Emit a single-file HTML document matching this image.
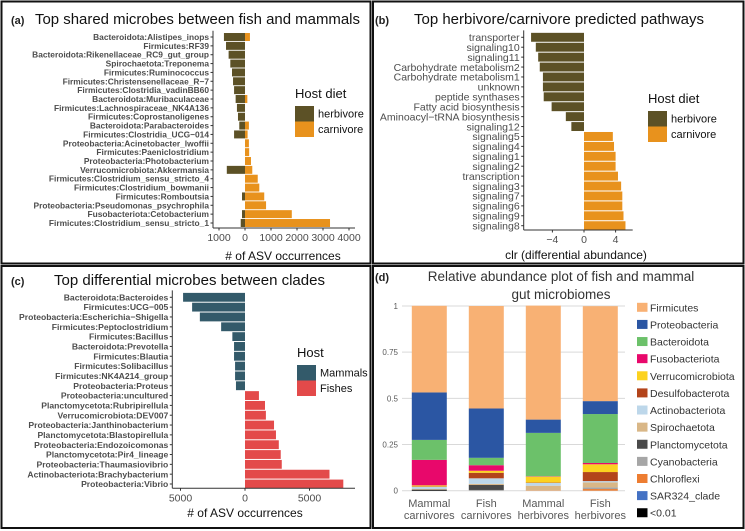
<!DOCTYPE html>
<html><head><meta charset="utf-8"><style>
html,body{margin:0;padding:0;background:#fff;}
svg{display:block;font-family:"Liberation Sans",Arial,sans-serif;}
</style></head><body>
<svg id="fig" width="745" height="531" viewBox="0 0 745 531" xmlns="http://www.w3.org/2000/svg">
<rect x="0" y="0" width="745" height="531" fill="#fff"/>
<g fill="none" stroke="#111" stroke-width="2">
<rect x="1.5" y="1.5" width="369" height="262"/>
<rect x="373" y="1.5" width="370.5" height="262"/>
<rect x="1.5" y="266" width="369" height="262"/>
<rect x="373" y="266" width="370.5" height="262"/>
</g>
</svg>
<script>
// ---------- Panel A data ----------
const aCategories = ["Bacteroidota:Alistipes_inops","Firmicutes:RF39","Bacteroidota:Rikenellaceae_RC9_gut_group","Spirochaetota:Treponema","Firmicutes:Ruminococcus","Firmicutes:Christensenellaceae_R\u22127","Firmicutes:Clostridia_vadinBB60","Bacteroidota:Muribaculaceae","Firmicutes:Lachnospiraceae_NK4A136","Firmicutes:Coprostanoligenes","Bacteroidota:Parabacteroides","Firmicutes:Clostridia_UCG\u2212014","Proteobacteria:Acinetobacter_lwoffii","Firmicutes:Paeniclostridium","Proteobacteria:Photobacterium","Verrucomicrobiota:Akkermansia","Firmicutes:Clostridium_sensu_stricto_4","Firmicutes:Clostridium_bowmanii","Firmicutes:Romboutsia","Proteobacteria:Pseudomonas_psychrophila","Fusobacteriota:Cetobacterium","Firmicutes:Clostridium_sensu_stricto_1"];
const aHerbivore = [810,730,630,565,500,460,420,360,310,270,220,420,0,0,0,700,0,0,115,0,115,165];
const aCarnivore = [190,0,0,0,0,0,0,90,0,0,150,100,150,160,230,280,490,550,740,810,1800,3270];
const aTicks = [-1000,0,1000,2000,3000,4000];
const aTickLabels = ["1000","0","1000","2000","3000","4000"];
// ---------- Panel B data ----------
const bCategories = ["transporter","signaling10","signaling11","Carbohydrate metabolism2","Carbohydrate metabolism1","unknown","peptide synthases","Fatty acid biosynthesis","Aminoacyl\u2212tRNA biosynthesis","signaling12","signaling5","signaling4","signaling1","signaling2","transcription","signaling3","signaling7","signaling6","signaling9","signaling8"];
const bValues = [-6.7,-6.1,-5.8,-5.6,-5.2,-5.2,-5.1,-4.1,-2.3,-1.6,3.65,3.8,4.0,4.0,4.3,4.7,4.85,4.85,5.0,5.25];
const bTicks = [-4,0,4];
const bTickLabels = ["\u22124","0","4"];
// ---------- Panel C data ----------
const cCategories = ["Bacteroidota:Bacteroides","Firmicutes:UCG\u2212005","Proteobacteria:Escherichia\u2212Shigella","Firmicutes:Peptoclostridium","Firmicutes:Bacillus","Bacteroidota:Prevotella","Firmicutes:Blautia","Firmicutes:Solibacillus","Firmicutes:NK4A214_group","Proteobacteria:Proteus","Proteobacteria:uncultured","Planctomycetota:Rubripirellula","Verrucomicrobiota:DEV007","Proteobacteria:Janthinobacterium","Planctomycetota:Blastopirellula","Proteobacteria:Endozoicomonas","Planctomycetota:Pir4_lineage","Proteobacteria:Thaumasiovibrio","Actinobacteriota:Brachybacterium","Proteobacteria:Vibrio"];
const cValues = [-4800,-4100,-3500,-1850,-980,-850,-850,-770,-770,-700,1080,1550,1620,2250,2400,2620,2770,2850,6550,7620];
const cTicks = [-5000,0,5000];
const cTickLabels = ["5000","0","5000"];
// ---------- Panel D data ----------
const dGroups = ["Mammal carnivores","Fish carnivores","Mammal herbivores","Fish herbivores"];
const dSeriesNames = ["Firmicutes","Proteobacteria","Bacteroidota","Fusobacteriota","Verrucomicrobiota","Desulfobacterota","Actinobacteriota","Spirochaetota","Planctomycetota","Cyanobacteria","Chloroflexi","SAR324_clade","<0.01"];
const dFirmicutes       = [0.469,0.555,0.617,0.514];
const dProteobacteria   = [0.257,0.267,0.072,0.070];
const dBacteroidota     = [0.108,0.040,0.235,0.265];
const dFusobacteriota   = [0.138,0.030,0.002,0.007];
const dVerrucomicrobiota= [0.006,0.011,0.032,0.042];
const dDesulfobacterota = [0.002,0.030,0.002,0.049];
const dActinobacteriota = [0.012,0.030,0.015,0.007];
const dSpirochaetota    = [0.003,0.006,0.025,0.027];
const dPlanctomycetota  = [0.002,0.027,0.000,0.000];
const dCyanobacteria    = [0.000,0.004,0.000,0.009];
const dChloroflexi      = [0.000,0.000,0.002,0.009];
const dSAR324           = [0.000,0.000,0.000,0.000];
const dOther            = [0.004,0.000,0.000,0.000];
const dYTicks = [0,0.25,0.5,0.75,1];
const dYTickLabels = ["0","0.25","0.5","0.75","1"];

const NS = "http://www.w3.org/2000/svg";
const svg = document.getElementById("fig");
function mk(tag, attrs, parent, text){
  const e = document.createElementNS(NS, tag);
  for (const k in attrs) e.setAttribute(k, attrs[k]);
  if (text !== undefined) e.textContent = text;
  (parent||svg).appendChild(e);
  return e;
}

function hPanel(opt){
  const g = mk("g", {});
  
  
  const n = opt.cats.length;
  const step = (opt.yLast - opt.yFirst)/(n-1);
  const yPos = i => opt.yFirst + i*step;
  const xPos = v => opt.x0 + v*opt.pxPer;
  const bh = step*0.9;
  const lab = mk("text", {x:opt.labX, y:opt.titleY, "font-size":"11", "font-weight":"bold", fill:"#222"}, g, opt.letter);
  
  
  const t = mk("text", {x:opt.titleX, y:opt.titleY, "font-size":"15", fill:"#111", textLength:opt.titleW, lengthAdjust:"spacingAndGlyphs"}, g, opt.title);
  
  
  opt.series.forEach(s => {
    s.vals.forEach((v,i) => {
      if (!v) return;
      const val = s.sign*v;
      const x1 = xPos(Math.min(0,val)), x2 = xPos(Math.max(0,val));
      const r = mk("rect", {x:x1, y:yPos(i)-bh/2, width:x2-x1, height:bh, fill:s.color(val)}, g);
      
      
    });
  });
  const ya = mk("line", {x1:opt.axX, x2:opt.axX, y1:opt.yFirst-step*0.7, y2:opt.axY, stroke:"#333", "stroke-width":"1"}, g);
  
  
  opt.cats.forEach((c,i) => {
    mk("line", {x1:opt.axX-2.5, x2:opt.axX, y1:yPos(i), y2:yPos(i), stroke:"#333"}, g);
    const tx = mk("text", {x:opt.axX-4, y:yPos(i)+opt.labFs*0.36, "font-size":opt.labFs, "font-weight":opt.labW, fill:"#4d4d4d", "text-anchor":"end"}, g, c);
    
    
  });
  const xa = mk("line", {x1:opt.axX, x2:opt.axXEnd, y1:opt.axY, y2:opt.axY, stroke:"#333"}, g);
  
  
  opt.ticks.forEach((tv,i) => {
    const x = xPos(tv);
    mk("line", {x1:x, x2:x, y1:opt.axY, y2:opt.axY+2.5, stroke:"#333"}, g);
    const tl = mk("text", {x:x, y:opt.axY+13, "font-size":"10.5", fill:"#4d4d4d", "text-anchor":"middle"}, g, opt.tickLabels[i]);
    
    
  });
  const xt = mk("text", {x:opt.xTitleX, y:opt.xTitleY, "font-size":"12", fill:"#111", "text-anchor":"middle"}, g, opt.xTitle);
  
  
  const lg = mk("g", {}, g);
  
  
  mk("text", {x:opt.legX, y:opt.legY, "font-size":"13", fill:"#111"}, lg, opt.legTitle);
  opt.legItems.forEach((it,i) => {
    const y = opt.legY + 8 + i*15.5;
    const sw = mk("rect", {x:opt.legX, y:y, width:19, height:15.5, fill:it.color}, lg);
    
    
    const lt = mk("text", {x:opt.legX+23, y:y+11.5, "font-size":"11", fill:"#111"}, lg, it.label);
    
    
  });
}

const HERB = "#5c5126", CARN = "#e8921d", MAM = "#335a6a", FISH = "#e34a4a";

hPanel({name:"panel-a-shared-microbes", letter:"(a)", labX:11, title:"Top shared microbes between fish and mammals", titleX:35, titleY:24, titleW:325,
  cats:aCategories, yFirst:37, yLast:223, x0:245, pxPer:26/1000, axX:213, axY:228, axXEnd:355,
  series:[{key:"herbivore", sign:-1, vals:aHerbivore, color:()=>HERB},{key:"carnivore", sign:1, vals:aCarnivore, color:()=>CARN}],
  ticks:aTicks, tickLabels:aTickLabels, xTitle:"# of ASV occurrences", xTitleX:283, xTitleY:260,
  labFs:8.4, labW:"bold", legX:295, legY:98, legTitle:"Host diet",
  legItems:[{label:"herbivore", color:HERB},{label:"carnivore", color:CARN}]});

hPanel({name:"panel-b-pathways", letter:"(b)", labX:375, title:"Top herbivore/carnivore predicted pathways", titleX:414, titleY:24, titleW:290,
  cats:bCategories, yFirst:37.3, yLast:225.7, x0:584, pxPer:7.9, axX:523.7, axY:230, axXEnd:632.7,
  series:[{key:"pathway", sign:1, vals:bValues, color:v=> v<0?HERB:CARN}],
  ticks:bTicks, tickLabels:bTickLabels, xTitle:"clr (differential abundance)", xTitleX:576, xTitleY:259,
  labFs:10.5, labW:"normal", legX:648, legY:103, legTitle:"Host diet",
  legItems:[{label:"herbivore", color:HERB},{label:"carnivore", color:CARN}]});

hPanel({name:"panel-c-clade-microbes", letter:"(c)", labX:11, title:"Top differential microbes between clades", titleX:54, titleY:285, titleW:271,
  cats:cCategories, yFirst:297.3, yLast:484, x0:245, pxPer:12.9/1000, axX:172.3, axY:488.3, axXEnd:355,
  series:[{key:"clade", sign:1, vals:cValues, color:v=> v<0?MAM:FISH}],
  ticks:cTicks, tickLabels:cTickLabels, xTitle:"# of ASV occurrences", xTitleX:245, xTitleY:517,
  labFs:8.6, labW:"bold", legX:297, legY:357, legTitle:"Host",
  legItems:[{label:"Mammals", color:MAM},{label:"Fishes", color:FISH}]});

(function(){
  const g = mk("g", {});
  
  
  const y0 = 490.7, y1 = 306, xL = 402, xR = 625;
  const yPos = v => y0 - v*(y0-y1);
  const xC = i => 429.3 + i*57;
  const bw = 35;
  const lab = mk("text", {x:375, y:281, "font-size":"11", "font-weight":"bold", fill:"#222"}, g, "(d)");
  
  
  const t1 = mk("text", {x:561, y:281, "font-size":"13.5", fill:"#333", "text-anchor":"middle"}, g, "Relative abundance plot of fish and mammal");
  
  
  const t2 = mk("text", {x:561, y:299, "font-size":"13.5", fill:"#333", "text-anchor":"middle"}, g, "gut microbiomes");
  
  
  dYTicks.forEach((tv,i) => {
    const gl = mk("line", {x1:xL, x2:xR, y1:yPos(tv), y2:yPos(tv), stroke:"#d9d9d9", "stroke-width":"1"}, g);
    
    
    const tl = mk("text", {x:398, y:yPos(tv)+3, "font-size":"8", fill:"#595959", "text-anchor":"end"}, g, dYTickLabels[i]);
    
    
  });
  const seriesVals = [dFirmicutes,dProteobacteria,dBacteroidota,dFusobacteriota,dVerrucomicrobiota,dDesulfobacterota,dActinobacteriota,dSpirochaetota,dPlanctomycetota,dCyanobacteria,dChloroflexi,dSAR324,dOther];
  const colors = ["#f8b174","#2b56a3","#6cc16a","#e8086b","#fcd21f","#b3441a","#bdd7ea","#d9b787","#4a4a4a","#a6a6a6","#ed7d31","#4472c4","#000000"];
  dGroups.forEach((grp,gi) => {
    let cum = 0;
    for (let s = seriesVals.length-1; s >= 0; s--) {
      const v = seriesVals[s][gi];
      if (v > 0) {
        const r = mk("rect", {x:xC(gi)-bw/2, y:yPos(cum+v), width:bw, height:yPos(cum)-yPos(cum+v), fill:colors[s]}, g);
        
        
      }
      cum += v;
    }
    const parts = grp.split(" ");
    const c1 = mk("text", {x:xC(gi), y:507, "font-size":"11", fill:"#595959", "text-anchor":"middle"}, g, parts[0]);
    
    
    const c2 = mk("text", {x:xC(gi), y:519, "font-size":"11", fill:"#595959", "text-anchor":"middle"}, g, parts[1]);
    
    
  });
  const lg = mk("g", {}, g);
  
  
  dSeriesNames.forEach((nm,i) => {
    const y = 307.3 + i*17.12;
    const sw = mk("rect", {x:637, y:y-4.5, width:10.5, height:9, fill:colors[i]}, lg);
    
    
    const lt = mk("text", {x:650, y:y+4, "font-size":"10.5", fill:"#333"}, lg, nm);
    
    
  });
})();
</script>
</body></html>
